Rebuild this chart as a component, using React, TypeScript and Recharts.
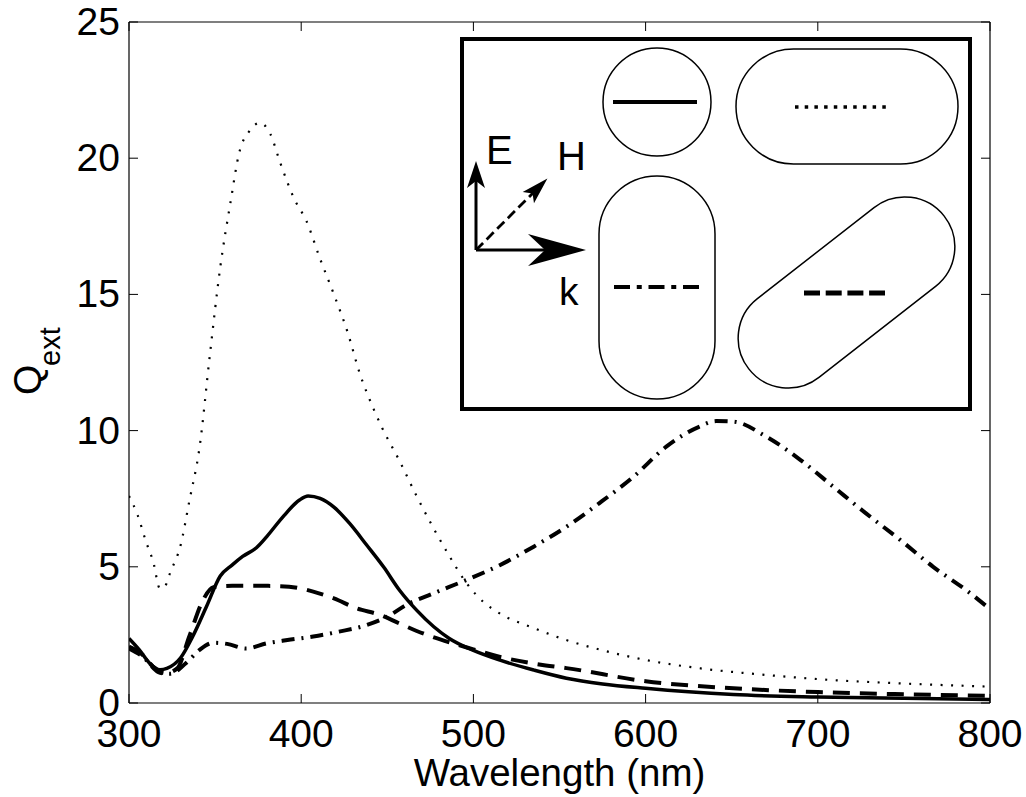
import React from "react";
import { LineChart, Line, XAxis, YAxis } from "recharts";

const FONT = "'Liberation Sans', Arial, Helvetica, sans-serif";

// x-axis ticks (nm) and y-axis ticks (Q_ext)
const xTicks = [300, 400, 500, 600, 700, 800];
const yTicks = [0, 5, 10, 15, 20, 25];

// Sphere (solid)
const sphereWl = [300, 306, 312, 318, 322, 330, 337, 345, 353, 360, 366, 374, 380, 390, 399, 404, 411, 419, 428, 438, 448, 457, 467, 477, 486, 500, 515, 535, 554, 575, 600, 625, 651, 700, 750, 800];
const sphereQ = [2.37, 1.95, 1.46, 1.22, 1.27, 1.66, 2.44, 3.54, 4.66, 5.07, 5.38, 5.7, 6.11, 6.88, 7.45, 7.6, 7.51, 7.19, 6.6, 5.8, 4.98, 4.15, 3.41, 2.8, 2.37, 1.93, 1.58, 1.21, 0.91, 0.7, 0.54, 0.41, 0.31, 0.22, 0.17, 0.13];

// Horizontal rod (dotted)
const horizWl = [300, 305, 310, 314, 318, 321, 324, 330, 335, 341, 347, 353, 359, 364, 370, 376, 382, 388, 396, 403, 411, 419, 427, 434, 442, 447, 457, 467, 477, 486, 496, 506, 515, 535, 554, 574, 600, 632, 670, 709, 748, 800];
const horizQ = [7.6, 6.9, 5.9, 5.2, 4.2, 4.3, 4.8, 5.8, 7.4, 9.4, 12.8, 16.0, 18.4, 20.2, 21.0, 21.3, 20.9, 19.8, 18.5, 17.7, 16.3, 15.0, 13.6, 12.1, 10.8, 10.1, 8.9, 7.6, 6.4, 5.4, 4.4, 3.7, 3.3, 2.75, 2.31, 1.95, 1.58, 1.27, 1.03, 0.84, 0.72, 0.6];

// Vertical rod (dash-dot)
const vertWl = [300, 308, 318, 324, 333, 341, 349, 357, 368, 380, 392, 407, 422, 438, 450, 461, 477, 496, 515, 535, 554, 573, 593, 612, 631, 641, 651, 670, 690, 709, 728, 748, 767, 786, 800];
const vertQ = [2.0, 1.7, 1.11, 1.07, 1.46, 1.95, 2.21, 2.17, 2.0, 2.19, 2.31, 2.44, 2.62, 2.86, 3.17, 3.6, 4.03, 4.52, 5.05, 5.74, 6.47, 7.33, 8.31, 9.41, 10.14, 10.35, 10.33, 9.78, 8.92, 7.94, 6.96, 5.98, 5.0, 4.15, 3.45];

// Tilted rod (dashed)
const tiltWl = [300, 308, 314, 321, 328, 335, 343, 349, 360, 380, 393, 407, 419, 432, 446, 457, 473, 488, 500, 515, 542, 554, 600, 651, 700, 750, 800];
const tiltQ = [2.07, 1.76, 1.33, 1.09, 1.27, 2.44, 3.78, 4.25, 4.3, 4.3, 4.27, 4.09, 3.84, 3.48, 3.23, 2.92, 2.5, 2.19, 1.97, 1.7, 1.38, 1.28, 0.8, 0.54, 0.4, 0.32, 0.26];

const toPts = (wl: number[], q: number[]) => wl.map((x, i) => ({ x, y: q[i] }));

const TICK = 9;

const BottomTick = (p: any) => (
  <g>
    <line x1={p.x} y1={p.y} x2={p.x} y2={p.y - TICK} stroke="#000" strokeWidth={1} />
    <text x={p.x} y={p.y + 44} textAnchor="middle" fontSize={39} fontFamily={FONT} fill="#000">
      {p.payload.value}
    </text>
  </g>
);
const TopTick = (p: any) => (
  <line x1={p.x} y1={p.y} x2={p.x} y2={p.y + TICK} stroke="#000" strokeWidth={1} />
);
const LeftTick = (p: any) => (
  <g>
    <line x1={p.x} y1={p.y} x2={p.x + TICK} y2={p.y} stroke="#000" strokeWidth={1} />
    <text x={p.x - 9} y={p.y + 13} textAnchor="end" fontSize={39} fontFamily={FONT} fill="#000">
      {p.payload.value}
    </text>
  </g>
);
const RightTick = (p: any) => (
  <line x1={p.x} y1={p.y} x2={p.x - TICK} y2={p.y} stroke="#000" strokeWidth={1} />
);

const Inset = () => {
  const dc = { cx: 846.5, cy: 292.5 };
  return (
    <svg width={1026} height={797} style={{ position: "absolute", left: 0, top: 0, pointerEvents: "none" }}>
      {/* y label */}
      <g transform="translate(41,395) rotate(-90)" fontFamily={FONT} fill="#000">
        <text x={0} y={0} fontSize={39}>Q</text>
        <text x={29} y={19} fontSize={29}>ext</text>
      </g>
      {/* x label */}
      <text x={559.5} y={786} textAnchor="middle" fontSize={38.5} fontFamily={FONT} fill="#000">
        Wavelength (nm)
      </text>

      {/* inset box */}
      <rect x={462} y={39} width={508} height={370} fill="#fff" stroke="#000" strokeWidth={4} />
      <circle cx={657} cy={102} r={54} fill="none" stroke="#000" strokeWidth={1.5} />
      <rect x={736} y={49} width={222} height={115} rx={57.5} ry={57.5} fill="none" stroke="#000" strokeWidth={1.5} />
      <rect x={599} y={176} width={116} height={223} rx={58} ry={58} fill="none" stroke="#000" strokeWidth={1.5} />
      <rect
        x={dc.cx - 124}
        y={dc.cy - 50}
        width={248}
        height={100}
        rx={50}
        ry={50}
        transform={`rotate(-38 ${dc.cx} ${dc.cy})`}
        fill="none"
        stroke="#000"
        strokeWidth={1.5}
      />
      {/* line samples */}
      <line x1={613} y1={102} x2={697} y2={102} stroke="#000" strokeWidth={4} />
      <line x1={795} y1={107} x2={892} y2={107} stroke="#000" strokeWidth={3.5} strokeDasharray="3.5 6.2" />
      <line x1={614} y1={287} x2={699} y2={287} stroke="#000" strokeWidth={4} strokeDasharray="16 6.75 5 6.75" />
      <line x1={804} y1={293} x2={885} y2={293} stroke="#000" strokeWidth={5} strokeDasharray="16 5.7" />

      {/* E arrow */}
      <line x1={476} y1={250} x2={476} y2={178} stroke="#000" strokeWidth={3} />
      <polygon points="476,161 467,188 476,181 485,188" fill="#000" />
      {/* H arrow (dashed) */}
      <g transform="translate(476,250) rotate(-45)">
        <line x1={0} y1={0} x2={82} y2={0} stroke="#000" strokeWidth={2.8} strokeDasharray="10 5" />
        <polygon points="101,0 74,-8 80,0 74,8" fill="#000" />
      </g>
      {/* k arrow */}
      <line x1={476} y1={250} x2={548} y2={250} stroke="#000" strokeWidth={3} />
      <polygon points="586,250 528,234 545,250 528,266" fill="#000" />
      <text x={486} y={164} fontSize={40} fontFamily={FONT} fill="#000">E</text>
      <text x={557} y={170} fontSize={40} fontFamily={FONT} fill="#000">H</text>
      <text x={559} y={305} fontSize={39} fontFamily={FONT} fill="#000">k</text>
    </svg>
  );
};

const axisCommon = {
  type: "number" as const,
  allowDataOverflow: true,
  tickSize: 0,
  tickMargin: 0,
  tickLine: false,
  axisLine: { stroke: "#000", strokeWidth: 1.2 },
  interval: 0 as const,
};

export default function App() {
  return (
    <div style={{ position: "absolute", left: 0, top: 0, width: 1026, height: 797, background: "#fff" }}>
      <LineChart width={1026} height={797} margin={{ top: 21, right: 35, bottom: 93, left: 128 }}>
        <XAxis xAxisId="b" dataKey="x" domain={[300, 800]} ticks={xTicks} height={1} tick={BottomTick} {...axisCommon} />
        <XAxis xAxisId="t" orientation="top" dataKey="x" domain={[300, 800]} ticks={xTicks} height={1} tick={TopTick} {...axisCommon} />
        <YAxis yAxisId="l" domain={[0, 25]} ticks={yTicks} width={1} tick={LeftTick} {...axisCommon} />
        <YAxis yAxisId="r" orientation="right" domain={[0, 25]} ticks={yTicks} width={1} tick={RightTick} {...axisCommon} />
        <Line
          xAxisId="b"
          yAxisId="l"
          data={toPts(horizWl, horizQ)}
          dataKey="y"
          type="monotone"
          stroke="#000"
          strokeWidth={2.2}
          strokeDasharray="2 8.5"
          dot={false}
          isAnimationActive={false}
        />
        <Line
          xAxisId="b"
          yAxisId="l"
          data={toPts(vertWl, vertQ)}
          dataKey="y"
          type="monotone"
          stroke="#000"
          strokeWidth={4}
          strokeDasharray="13 7 2 7"
          dot={false}
          isAnimationActive={false}
        />
        <Line
          xAxisId="b"
          yAxisId="l"
          data={toPts(tiltWl, tiltQ)}
          dataKey="y"
          type="monotone"
          stroke="#000"
          strokeWidth={4}
          strokeDasharray="17 10"
          dot={false}
          isAnimationActive={false}
        />
        <Line
          xAxisId="b"
          yAxisId="l"
          data={toPts(sphereWl, sphereQ)}
          dataKey="y"
          type="monotone"
          stroke="#000"
          strokeWidth={3.5}
          dot={false}
          isAnimationActive={false}
        />
      </LineChart>
      <Inset />
    </div>
  );
}
